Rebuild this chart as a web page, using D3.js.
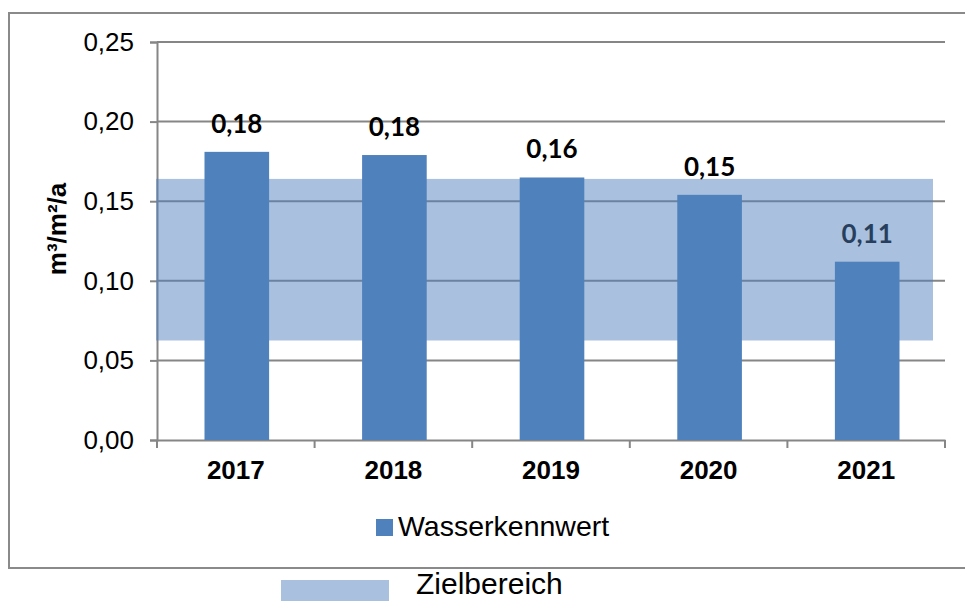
<!DOCTYPE html>
<html>
<head>
<meta charset="utf-8">
<script src="https://cdn.jsdelivr.net/npm/d3@7"></script>
<style>
  body { margin: 0; background: #fff; }
  text { font-family: "Liberation Sans", Arial, sans-serif; }
</style>
</head>
<body>
<div id="chart"></div>
<script>
// data
const years = ["2017", "2018", "2019", "2020", "2021"];
const wasserkennwert = [0.181, 0.179, 0.1649, 0.154, 0.112];
const zielbereich = [0.0625, 0.164]; // lower, upper bound of target band
const yTicks = [0, 0.05, 0.1, 0.15, 0.2, 0.25];
const seriesNames = ["Wasserkennwert", "Zielbereich"];

const width = 965, height = 601;
const barColor = "#4F81BD";
const gridColor = "#868686";

const svg = d3.select("#chart").append("svg")
  .attr("width", width).attr("height", height);

// outer chart frame (right side runs off the picture)
svg.append("rect")
  .attr("x", 9).attr("y", 13)
  .attr("width", 1000).attr("height", 555)
  .attr("fill", "none")
  .attr("stroke", "#8a8a8a")
  .attr("stroke-width", 2);

const x = d3.scaleBand().domain(years).range([157, 945]).padding(0);
const y = d3.scaleLinear().domain([0, 0.25]).range([440, 42]);
const fmt = d => d3.format(".2f")(d).replace(".", ",");

// gridlines
svg.append("g")
  .selectAll("line")
  .data(yTicks.filter(d => d > 0))
  .enter()
  .append("line")
  .attr("x1", x.range()[0]).attr("x2", x.range()[1])
  .attr("y1", d => y(d)).attr("y2", d => y(d))
  .attr("stroke", gridColor)
  .attr("stroke-width", 2);

// y axis
const yAxis = svg.append("g")
  .attr("transform", "translate(" + x.range()[0] + ",0)")
  .call(d3.axisLeft(y).tickValues(yTicks).tickFormat(fmt).tickSize(7).tickPadding(16));
yAxis.select(".domain").attr("stroke", gridColor).attr("stroke-width", 2);
yAxis.selectAll(".tick line").attr("stroke", gridColor).attr("stroke-width", 2);
yAxis.selectAll(".tick text")
  .style("font-family", "Liberation Sans, Arial, sans-serif")
  .style("font-size", "26px")
  .attr("fill", "#000");

// x axis
const xAxis = svg.append("g")
  .attr("transform", "translate(0," + y(0) + ")")
  .call(d3.axisBottom(x).tickSize(0).tickPadding(21));
xAxis.select(".domain").attr("stroke", gridColor).attr("stroke-width", 2);
xAxis.selectAll(".tick text")
  .style("font-family", "Liberation Sans, Arial, sans-serif")
  .style("font-size", "26px")
  .style("font-weight", "bold")
  .attr("fill", "#000");

const boundaries = years.map(d => x(d)).concat([x.range()[1]]);
svg.append("g")
  .selectAll("line")
  .data(boundaries)
  .enter()
  .append("line")
  .attr("x1", d => d).attr("x2", d => d)
  .attr("y1", y(0)).attr("y2", y(0) + 8)
  .attr("stroke", gridColor)
  .attr("stroke-width", 2);

// y axis title
svg.append("text")
  .attr("transform", "translate(66,229) rotate(-90)")
  .attr("text-anchor", "middle")
  .style("font-size", "26px")
  .style("font-weight", "bold")
  .text("m³/m²/a");

// value labels (sit under the translucent band)
const barW = x.bandwidth() * 0.41;
svg.append("g")
  .selectAll("text")
  .data(wasserkennwert)
  .enter()
  .append("text")
  .attr("x", (d, i) => x(years[i]) + x.bandwidth() / 2 + 1)
  .attr("y", d => y(d) - 19)
  .attr("text-anchor", "middle")
  .style("font-family", "Lato, 'Open Sans', sans-serif")
  .style("font-weight", "bold")
  .style("font-size", "26px")
  .attr("fill", "#000")
  .text(fmt);

// target band
svg.append("rect")
  .attr("x", x.range()[0] - 1)
  .attr("y", y(zielbereich[1]))
  .attr("width", x.range()[1] - x.range()[0] - 11)
  .attr("height", y(zielbereich[0]) - y(zielbereich[1]))
  .attr("fill", barColor)
  .attr("fill-opacity", 0.49);

// bars
svg.append("g")
  .selectAll("rect")
  .data(wasserkennwert)
  .enter()
  .append("rect")
  .attr("x", (d, i) => x(years[i]) + (x.bandwidth() - barW) / 2 + 1)
  .attr("y", d => y(d))
  .attr("width", barW)
  .attr("height", d => y(0) - y(d))
  .attr("fill", barColor);

// legend
const leg = svg.append("g");
leg.append("rect")
  .attr("x", 376).attr("y", 519)
  .attr("width", 17).attr("height", 17)
  .attr("fill", barColor);
leg.append("text")
  .attr("x", 398).attr("y", 536)
  .style("font-size", "28.5px")
  .text(seriesNames[0]);

leg.append("rect")
  .attr("x", 281).attr("y", 580)
  .attr("width", 108).attr("height", 30)
  .attr("fill", barColor)
  .attr("fill-opacity", 0.49);
leg.append("text")
  .attr("x", 416).attr("y", 594)
  .style("font-size", "30px")
  .text(seriesNames[1]);
</script>
</body>
</html>
